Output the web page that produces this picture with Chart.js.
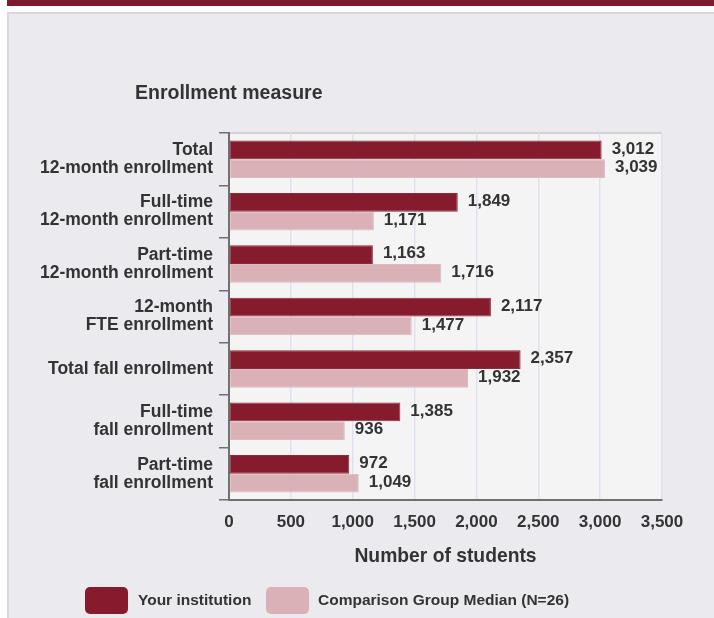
<!DOCTYPE html>
<html>
<head>
<meta charset="utf-8">
<script src="https://cdn.jsdelivr.net/npm/chart.js@4"></script>
<style>
  html, body { margin:0; padding:0; width:714px; height:618px; overflow:hidden; background:#ffffff; font-family:'Liberation Sans', Arial, sans-serif; }
  #topbar { position:absolute; left:7px; top:0; width:707px; height:6px; background:#7e1a2d; }
  #panel { position:absolute; left:7px; top:12px; width:720px; height:620px; background:#ebebef; border:2px solid #d8d8d8; box-sizing:border-box; }
  #wrap { position:absolute; left:0; top:0; width:714px; height:618px; }
  #ytitle { position:absolute; left:135px; top:81px; font-size:19.5px; font-weight:bold; color:#333; line-height:22px; white-space:nowrap; }
  .sw { position:absolute; top:587px; width:43px; height:27px; border-radius:5px; }
  .lt { position:absolute; top:590px; font-size:15.5px; font-weight:bold; color:#333; line-height:20px; white-space:nowrap; }
</style>
</head>
<body>
<div id="topbar"></div>
<div id="panel"></div>
<div id="wrap"><canvas id="c" width="714" height="618"></canvas></div>
<div id="ytitle">Enrollment measure</div>
<div class="sw" style="left:85px;background:#861b2d;"></div>
<div class="lt" style="left:138px;">Your institution</div>
<div class="sw" style="left:266px;background:#d9b1b7;"></div>
<div class="lt" style="left:318px;">Comparison Group Median (N=26)</div>
<script>
const categories = [
  ['Total', '12-month enrollment'],
  ['Full-time', '12-month enrollment'],
  ['Part-time', '12-month enrollment'],
  ['12-month', 'FTE enrollment'],
  'Total fall enrollment',
  ['Full-time', 'fall enrollment'],
  ['Part-time', 'fall enrollment']
];
const yourInstitution = [3012, 1849, 1163, 2117, 2357, 1385, 972];
const comparisonMedian = [3039, 1171, 1716, 1477, 1932, 936, 1049];
const seriesNames = ['Your institution', 'Comparison Group Median (N=26)'];
const xMin = 0, xMax = 3500, xStep = 500;

const FONT = "'Liberation Sans', Arial, sans-serif";
const TEXT = '#333333';

const plotBg = {
  id: 'plotBg',
  beforeDraw(chart) {
    const {ctx, chartArea: a} = chart;
    ctx.save();
    ctx.fillStyle = '#f4f4f4';
    ctx.fillRect(a.left, a.top, a.right - a.left, a.bottom - a.top);
    ctx.strokeStyle = '#d2d2d2';
    ctx.lineWidth = 2;
    ctx.beginPath();
    ctx.moveTo(a.left, a.top);
    ctx.lineTo(a.right, a.top);
    ctx.stroke();
    ctx.restore();
  }
};

const valueLabels = {
  id: 'valueLabels',
  afterDatasetsDraw(chart) {
    const {ctx} = chart;
    ctx.save();
    ctx.font = 'bold 17px ' + FONT;
    ctx.fillStyle = TEXT;
    ctx.textAlign = 'left';
    ctx.textBaseline = 'middle';
    chart.data.datasets.forEach((ds, i) => {
      const meta = chart.getDatasetMeta(i);
      meta.data.forEach((el, j) => {
        const v = ds.data[j];
        ctx.fillText(v.toLocaleString('en-US'), el.x + 10, el.y - 1);
      });
    });
    ctx.restore();
  }
};

new Chart(document.getElementById('c'), {
  type: 'bar',
  data: {
    labels: categories,
    datasets: [
      { label: seriesNames[0], data: yourInstitution, backgroundColor: '#861b2d', borderColor: '#8f2a3a', borderWidth: 1, borderSkipped: false },
      { label: seriesNames[1], data: comparisonMedian, backgroundColor: '#d9b1b7', borderColor: '#dcbac0', borderWidth: 1, borderSkipped: false }
    ]
  },
  options: {
    indexAxis: 'y',
    responsive: false,
    animation: false,
    datasets: { bar: { barPercentage: 1.0, categoryPercentage: 0.715 } },
    layout: { padding: { top: 133, right: 52, left: 0, bottom: 0 } },
    plugins: { legend: { display: false }, tooltip: { enabled: false }, title: { display: false } },
    scales: {
      x: {
        type: 'linear',
        position: 'bottom',
        min: xMin, max: xMax,
        afterFit(s) { s.height = 118; },
        ticks: {
          stepSize: xStep,
          padding: 12,
          color: TEXT,
          font: { family: FONT, size: 17, weight: 'bold' },
          callback: v => Number(v).toLocaleString('en-US')
        },
        grid: { color: '#dde3ee', lineWidth: 1.5, drawTicks: false },
        border: { display: true, color: '#707070', width: 2 },
        title: { display: true, text: 'Number of students', color: TEXT, font: { family: FONT, size: 19.3, weight: 'bold' }, padding: { top: 0, bottom: 50 } }
      },
      y: {
        type: 'category',
        afterFit(s) { s.width = 229; },
        ticks: {
          padding: 6,
          color: TEXT,
          font: { family: FONT, size: 17.5, weight: 'bold', lineHeight: 1.03 }
        },
        grid: { offset: true, drawOnChartArea: false, drawTicks: true, tickLength: 10, color: '#707070', lineWidth: 1.5 },
        border: { display: true, color: '#707070', width: 2 }
      }
    }
  },
  plugins: [plotBg, valueLabels]
});
</script>
</body>
</html>
